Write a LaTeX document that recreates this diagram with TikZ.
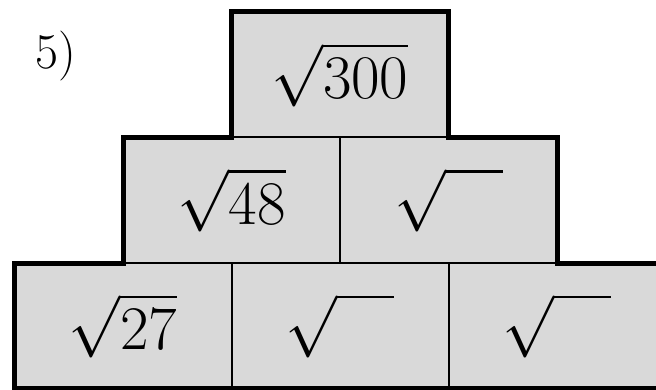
\RequirePackage{fix-cm}
\documentclass[tikz,border=0pt]{standalone}
\usepackage{amsmath,amssymb}
\usetikzlibrary{positioning, calc}
\definecolor{cellgray}{RGB}{217,217,217}

\begin{document}
\begin{tikzpicture}[x=1pt,y=-1pt]
	
	% 定义样式
	\tikzset{
		cell/.style = {
			rectangle, draw, fill=cellgray,
			line width=2pt,
			minimum width = \cellW pt,
			minimum height = \cellH pt,
			inner sep=0pt, outer sep=0pt,
			font=\fontsize{62}{70}\selectfont
		},
		outline/.style = {
			line width=5pt, miter limit=4
		}
	}
	
	% 参数设置
	\def \cellW {217}
	\def \cellH {125.5}
	\def \blank {\sqrt{\phantom{00}}}
	
	\clip (0,0) rectangle (656,390);
	
	% 编号
	\node[font=\fontsize{50}{56}\selectfont] (num) at (56,56) {5)};
	
	% 最下一行
	\foreach \i/\val in {0/{\sqrt{27}}, 1/{\blank}, 2/{\blank}} {
		\node[cell] (b\i) at ({123+\cellW*\i}, 325.75) {$\val$};
	}
	
	% 中间一行
	\foreach \i/\val in {0/{\sqrt{48}}, 1/{\blank}} {
		\node[cell] (m\i) at ({231.5+\cellW*\i}, 200.25) {$\val$};
	}
	
	% 最上面
	\node[cell] (t) at (340, 74.75) {$\sqrt{300}$};
	
	% 外框
	\draw[outline] (b0.south west) -- (b0.north west) -- (m0.south west)
	-- (m0.north west) -- (t.south west) -- (t.north west) -- (t.north east)
	-- (t.south east) -- (m1.north east) -- (m1.south east) -- (b2.north east)
	-- (b2.south east) -- cycle;
	
\end{tikzpicture}
\end{document}
